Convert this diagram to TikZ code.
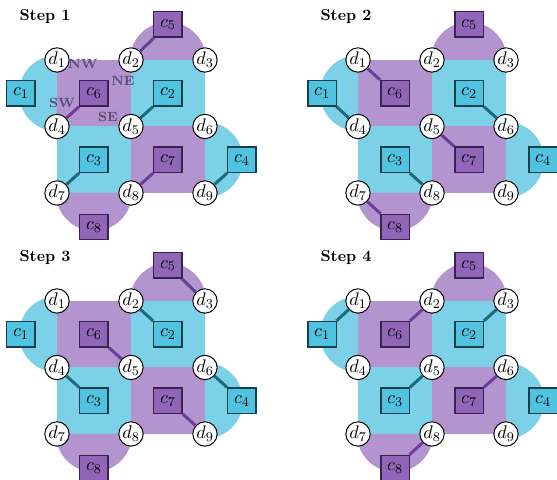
\documentclass[tikz,border=0pt]{standalone}
\usepackage{amsmath, amssymb}
\usepackage{xcolor}
\usepackage{tikz}

\definecolor{zblue}{HTML}{7CD0E8}
\definecolor{zpurple}{HTML}{B394CE}
\definecolor{cblue}{HTML}{4FC3E0}
\definecolor{cpurple}{HTML}{9166B8}
\definecolor{bdark}{HTML}{1B3F4A}
\definecolor{pdark}{HTML}{3A2250}
\definecolor{lblue}{HTML}{1A6A80}
\definecolor{lpurple}{HTML}{6B3F98}
\definecolor{cornertxt}{HTML}{5B4B78}

\begin{document}
\begin{tikzpicture}[x=44.4pt, y=39.9pt,
  dnode/.style={circle, draw, fill=white, line width=0.6pt, minimum size=14.6pt, inner sep=0pt,
    font=\fontsize{11}{13}\selectfont},
  cbox/.style={rectangle, draw, line width=0.8pt, minimum width=17pt, minimum height=15.2pt, inner sep=0.5pt,
    font=\fontsize{11}{13}\selectfont},
  bbox/.style={cbox, fill=cblue, draw=bdark},
  pbox/.style={cbox, fill=cpurple, draw=pdark},
  linkb/.style={line width=1.8pt, lblue},
  linkp/.style={line width=1.8pt, lpurple},
  corner/.style={font=\footnotesize\bfseries, text=cornertxt, inner sep=0pt}]
  \useasboundingbox (-0.770,0.902) rectangle (6.757,-6.316);

  \foreach \ox/\oy/\n/\links in {
      0/0/1/{5/2/p,6/4/p,2/5/b,3/7/b,7/8/p,4/9/b},
      4.068/0/2/{6/1/p,1/4/b,2/6/b,7/5/p,3/8/b,8/7/p},
      0/-3.624/3/{5/3/p,2/2/b,6/5/p,3/4/b,4/6/b,7/9/p},
      4.068/-3.624/4/{1/1/b,6/2/p,2/3/b,3/5/b,7/6/p,8/8/p}} {
  \begin{scope}[shift={(\ox,\oy)}]
    % plaquettes and boundary half discs
    \fill[zpurple] (0,0) rectangle (1,-1);
    \fill[zblue] (1,0) rectangle (2,-1);
    \fill[zblue] (0,-1) rectangle (1,-2);
    \fill[zpurple] (1,-1) rectangle (2,-2);
    \fill[zblue] ([yshift=22.8pt]0,-0.5) arc[start angle=90, end angle=270, radius=22.8pt] -- cycle;
    \fill[zpurple] ([xshift=22.8pt]1.5,0) arc[start angle=0, end angle=180, radius=22.8pt] -- cycle;
    \fill[zblue] ([yshift=-22.8pt]2,-1.5) arc[start angle=-90, end angle=90, radius=22.8pt] -- cycle;
    \fill[zpurple] ([xshift=-22.8pt]0.5,-2) arc[start angle=180, end angle=360, radius=22.8pt] -- cycle;

    \foreach \j in {0,1,2}
      \foreach \i in {0,1,2} {
        \pgfmathtruncatemacro\k{3*\j+\i+1}
        \node[dnode] (d\k) at (\i,-\j) {$d_{\k}$};
      }

    \node[bbox] (c1) at ([xshift=-21.6pt]0,-0.5) {$c_1$};
    \node[bbox] (c2) at (1.5,-0.5) {$c_2$};
    \node[bbox] (c3) at (0.5,-1.5) {$c_3$};
    \node[bbox] (c4) at ([xshift=22.2pt]2,-1.5) {$c_4$};
    \node[pbox] (c5) at ([yshift=21.3pt]1.5,0) {$c_5$};
    \node[pbox] (c6) at (0.5,-0.5) {$c_6$};
    \node[pbox] (c7) at (1.5,-1.5) {$c_7$};
    \node[pbox] (c8) at ([yshift=-20.4pt]0.5,-2) {$c_8$};

    \foreach \c/\d/\s in \links
      \draw[link\s] (c\c) -- (d\d);

    \ifnum\n=1
      \node[corner] (nw) at ([shift={(-6.6pt,17.4pt)}]c6) {NW};
      \node[corner] (ne) at ([shift={(17.4pt,7.2pt)}]c6) {NE};
      \node[corner] (sw) at ([shift={(-19.2pt,-6pt)}]c6) {SW};
      \node[corner] (se) at ([shift={(8.4pt,-14.4pt)}]c6) {SE};
    \fi

    \node[anchor=west, inner sep=0pt, font=\fontsize{9.5}{11}\selectfont\bfseries] (title) at (-0.51,0.647) {Step \n};
  \end{scope}
  }
\end{tikzpicture}
\end{document}
